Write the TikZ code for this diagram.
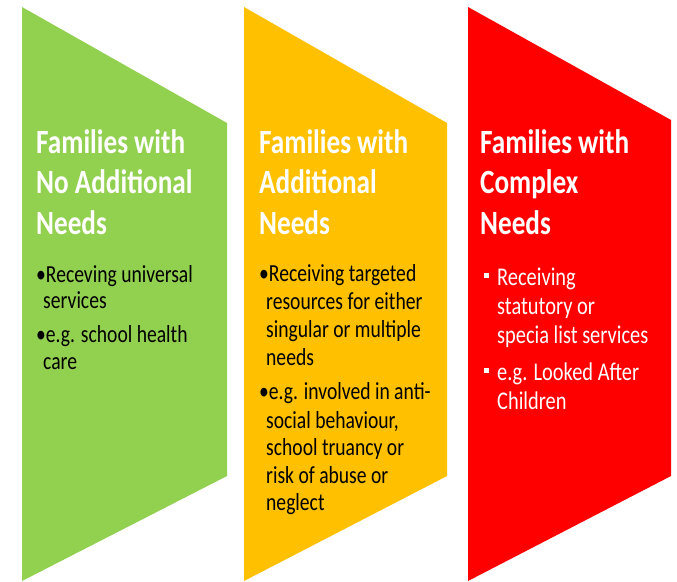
\documentclass[tikz,border=0pt]{standalone}
\usepackage{fontspec}
\setmainfont{Carlito}[FakeStretch=0.8]
\definecolor{gfill}{HTML}{92D050}
\definecolor{ofill}{HTML}{FFC000}
\definecolor{rfill}{HTML}{FF0000}
\newcommand\sqbul{\raisebox{7pt}{\rule{5pt}{5pt}}\hspace{8pt}}
\begin{document}
\begin{tikzpicture}[x=1pt,y=-1pt,
  ttl/.style={anchor=base west, inner sep=0pt, text=white, font=\fontsize{34}{40}\selectfont\bfseries},
  bodyd/.style={anchor=base west, inner sep=0pt, text=black, font=\fontsize{24.5}{28}\selectfont},
  bodyw/.style={anchor=base west, inner sep=0pt, text=white, font=\fontsize{25.5}{29}\selectfont}]
\useasboundingbox (0,0) rectangle (677,581);
% panels
\fill[gfill] (22,7) -- (227,123) -- (227,476) -- (22,581) -- cycle;
\fill[ofill] (244,7) -- (447,123) -- (447,476) -- (244,581) -- cycle;
\fill[rfill] (468,7) -- (671,120) -- (671,476) -- (468,581) -- cycle;
% green
\node[ttl] (g1) at (36,153) {Families with};
\node[ttl] (g2) at (36,193) {No Additional};
\node[ttl] (g3) at (36,234) {Needs};
\node[bodyd] (g4) at (36,282) {•Receving universal};
\node[bodyd] (g5) at (43,308) {services};
\node[bodyd] (g6) at (36,342) {•e.g. school health};
\node[bodyd] (g7) at (43,369) {care};
% orange
\node[ttl] (o1) at (259,153) {Families with};
\node[ttl] (o2) at (259,193) {Additional};
\node[ttl] (o3) at (259,234) {Needs};
\node[bodyd] (o4) at (259,281) {•Receiving targeted};
\node[bodyd] (o5) at (266,309) {resources for either};
\node[bodyd] (o6) at (266,337) {singular or multiple};
\node[bodyd] (o7) at (266,365) {needs};
\node[bodyd] (o8) at (259,399) {•e.g. involved in anti-};
\node[bodyd] (o9) at (266,428) {social behaviour,};
\node[bodyd] (o10) at (266,455) {school truancy or};
\node[bodyd] (o11) at (266,483) {risk of abuse or};
\node[bodyd] (o12) at (266,510) {neglect};
% red
\node[ttl] (r1) at (480,153) {Families with};
\node[ttl] (r2) at (480,193) {Complex};
\node[ttl] (r3) at (480,234) {Needs};
\node[bodyw] (r4) at (484,285) {\sqbul Receiving};
\node[bodyw] (r5) at (497,314) {statutory or};
\node[bodyw] (r6) at (497,343) {specia list services};
\node[bodyw] (r7) at (484,380) {\sqbul e.g. Looked After};
\node[bodyw] (r8) at (497,409) {Children};
\end{tikzpicture}
\end{document}
